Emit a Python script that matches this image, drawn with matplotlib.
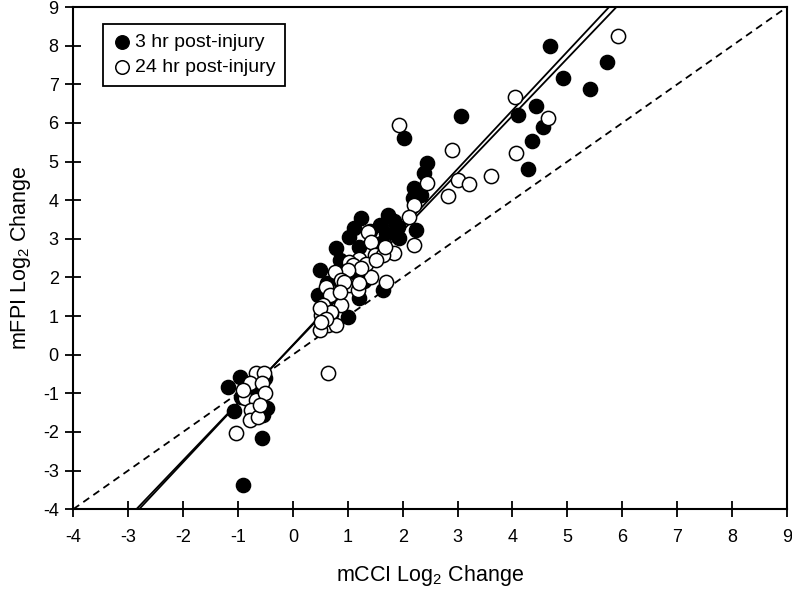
import numpy as np
import matplotlib
matplotlib.use('Agg')
import matplotlib.pyplot as plt

plt.rcParams['font.family'] = ['Liberation Sans', 'DejaVu Sans']
plt.rcParams['mathtext.fontset'] = 'custom'
plt.rcParams['mathtext.rm'] = 'Liberation Sans'
plt.rcParams['mathtext.it'] = 'Liberation Sans:italic'
plt.rcParams['axes.unicode_minus'] = False

# 3 hr post-injury (filled)
x_3hr = [4.68, 5.73, 4.92, 5.41, 3.06, 4.43, 4.10, 4.56, 4.35, 4.29, 2.03, 2.45, 2.38, 2.21, 2.33,
         2.18, 1.73, 1.24, 1.12, 1.58, 1.91, 2.24, 1.03, 1.70, 0.79, 1.21, 1.61, 1.94, 1.40, 1.85,
         0.49, 0.46, 1.00, 1.64, 1.21, 0.85, 0.62, 0.90, 1.15, 0.70, 1.30,
         -1.18, -0.97, -1.08, -0.57, -0.91, -0.48, -0.54, -0.70, -0.50, -0.95]
y_3hr = [7.99, 7.57, 7.16, 6.87, 6.17, 6.43, 6.21, 5.90, 5.52, 4.80, 5.60, 4.97, 4.70, 4.31, 4.14,
         4.05, 3.62, 3.53, 3.27, 3.36, 3.31, 3.23, 3.05, 3.14, 2.75, 2.80, 2.88, 3.01, 3.20, 3.45,
         2.19, 1.54, 0.98, 1.67, 1.46, 2.45, 1.85, 1.75, 2.10, 1.05, 1.90,
         -0.83, -0.57, -1.45, -2.17, -3.38, -1.39, -1.55, -0.95, -0.60, -1.10]

# 24 hr post-injury (open)
x_24hr = [5.93, 4.05, 4.65, 2.89, 4.06, 1.94, 3.00, 3.21, 3.61, 2.82, 2.44, 2.21, 2.12,
          1.36, 1.43, 2.21, 1.85, 1.49, 1.64, 1.21, 1.03, 1.67, 1.09, 1.33, 1.52,
          1.69, 1.43, 1.24, 1.00, 0.76, 0.61, 1.03, 1.18, 0.88, 0.67, 0.88, 0.55, 0.52, 0.64,
          0.49, 0.79, 0.70, 0.94, 0.85, 0.49, 1.21, 0.61, 0.52,
          0.64,
          -1.03, -0.67, -0.53, -0.79, -0.57, -0.88, -0.67, -0.51, -0.76, -0.79, -0.64, -0.91, -0.60]
y_24hr = [8.26, 6.66, 6.14, 5.30, 5.21, 5.95, 4.52, 4.41, 4.63, 4.11, 4.45, 3.88, 3.57,
          3.18, 2.93, 2.84, 2.62, 2.58, 2.58, 2.49, 2.41, 2.80, 2.32, 2.36, 2.45,
          1.89, 2.02, 2.24, 2.19, 2.15, 1.76, 1.80, 1.67, 1.93, 1.54, 1.28, 1.28, 1.03, 0.77,
          0.64, 0.77, 1.11, 1.89, 1.63, 1.20, 1.85, 0.93, 0.85,
          -0.48,
          -2.02, -0.48, -0.48, -0.74, -0.74, -1.13, -1.18, -1.00, -1.44, -1.69, -1.61, -0.92, -1.30]

# regression lines (slope, intercept)
fit_3hr = (1.519, 0.253)
fit_24hr = (1.487, 0.238)

ticks = list(range(-4, 10))

fig = plt.figure(figsize=(7.92, 5.90), dpi=100)
ax = fig.add_axes([0.0925, 0.137, 0.9012, 0.851])

xx = np.array([-4, 9])
ax.plot(xx, xx, color='black', lw=1.3, dashes=(4.0, 2.8), zorder=1)
for slope, icpt in (fit_3hr, fit_24hr):
    ax.plot(xx, slope * xx + icpt, color='black', lw=1.3, zorder=1)

ax.scatter(x_3hr, y_3hr, s=105, facecolor='black', edgecolor='black', linewidths=1.0,
           label='3 hr post-injury', zorder=2)
ax.scatter(x_24hr, y_24hr, s=105, facecolor='white', edgecolor='black', linewidths=1.1,
           label='24 hr post-injury', zorder=3)

ax.set_xlim(-4, 9)
ax.set_ylim(-4, 9)
ax.set_xticks(ticks)
ax.set_yticks(ticks)
ax.tick_params(direction='inout', length=11, width=1.3, labelsize=13, colors='black')
ax.tick_params(axis='x', pad=9)
ax.tick_params(axis='y', pad=5)
for sp in ax.spines.values():
    sp.set_linewidth(1.5)

ax.set_xlabel('mCCI Log$_2$ Change', fontsize=15.5, labelpad=12)
ax.set_ylabel('mFPI Log$_2$ Change', fontsize=15.5, labelpad=7)

leg = ax.legend(loc='upper left', bbox_to_anchor=(0.041, 0.966), borderaxespad=0,
                fancybox=False, framealpha=1, edgecolor='black', fontsize=14,
                handletextpad=0.15, handlelength=1.0, borderpad=0.5, labelspacing=0.35,
                markerscale=0.95)
leg.get_frame().set_linewidth(1.3)

fig.savefig('out.png', dpi=100)
